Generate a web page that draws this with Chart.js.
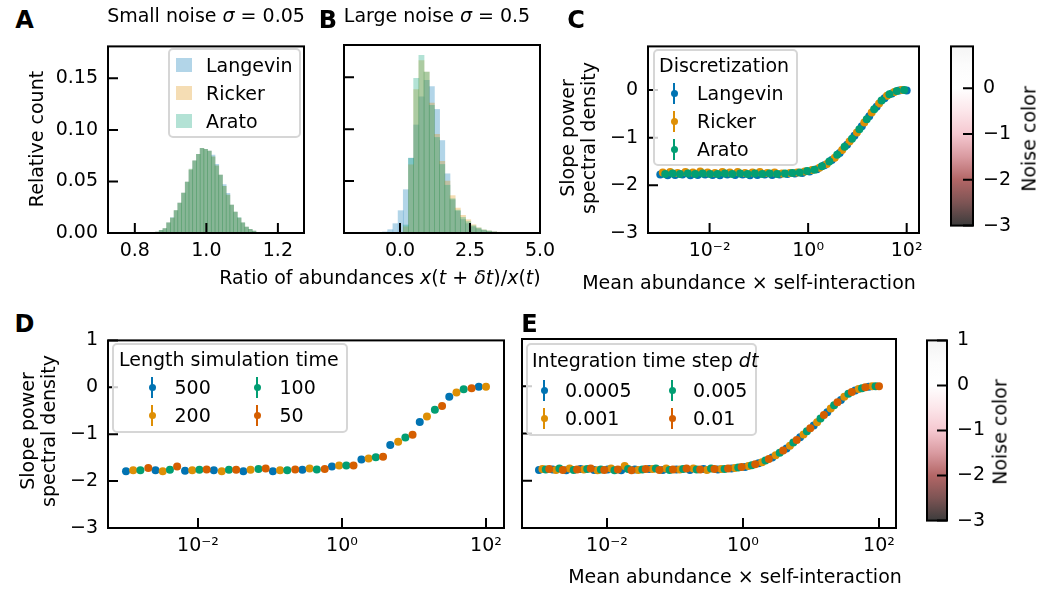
<!DOCTYPE html>
<html>
<head>
<meta charset="utf-8">
<script src="https://cdn.jsdelivr.net/npm/chart.js@4.4.0/dist/chart.umd.min.js"></script>
<style>
body { margin: 0; background: #fff; }
#fig { position: relative; width: 1053px; height: 591px; overflow: hidden; font-family: 'DejaVu Sans', sans-serif; color: #000; }
#fig canvas { position: absolute; }
.t { position: absolute; font-size: 19px; white-space: nowrap; line-height: 19px; }
.c { transform: translate(-50%, -50%); text-align: center; }
.r { transform: translate(-50%, -50%) rotate(-90deg); text-align: center; line-height: 21px; }
.l { transform: translateY(-50%); }
.big { font-size: 24px; line-height: 24px; font-weight: bold; }
.leg { position: absolute; box-sizing: border-box; border: 2px solid #d6d6d6; border-radius: 5px; background: rgba(255,255,255,0.8); }
</style>
</head>
<body>
<div id="fig"></div>
<script>
// ---- data ----

// A: small noise histogram (bin centres and relative counts)
const binsA = [0.8630, 0.8734, 0.8838, 0.8942, 0.9046, 0.9150, 0.9254, 0.9358, 0.9462, 0.9566,
  0.9670, 0.9774, 0.9878, 0.9982, 1.0086, 1.0190, 1.0294, 1.0398, 1.0502, 1.0606,
  1.0710, 1.0814, 1.0918, 1.1022, 1.1126, 1.1230, 1.1334, 1.1438];
const langevinA = [0.0010, 0.0026, 0.0042, 0.0099, 0.0150, 0.0218, 0.0290, 0.0388, 0.0494, 0.0609,
  0.0699, 0.0763, 0.0821, 0.0812, 0.0795, 0.0755, 0.0665, 0.0561, 0.0470, 0.0385,
  0.0272, 0.0202, 0.0144, 0.0099, 0.0058, 0.0035, 0.0019, 0.0006];
const rickerA = [0.0010, 0.0026, 0.0042, 0.0099, 0.0144, 0.0218, 0.0290, 0.0388, 0.0494, 0.0615,
  0.0699, 0.0763, 0.0821, 0.0812, 0.0795, 0.0740, 0.0651, 0.0561, 0.0452, 0.0368,
  0.0272, 0.0202, 0.0144, 0.0099, 0.0058, 0.0035, 0.0019, 0.0006];
const aratoA = [0.0010, 0.0026, 0.0042, 0.0099, 0.0144, 0.0218, 0.0290, 0.0388, 0.0494, 0.0620,
  0.0699, 0.0763, 0.0821, 0.0812, 0.0795, 0.0740, 0.0651, 0.0561, 0.0452, 0.0368,
  0.0272, 0.0202, 0.0150, 0.0099, 0.0058, 0.0035, 0.0019, 0.0006];

// B: large noise histogram
const binsB = [-0.5319, -0.3465, -0.1611, 0.0243, 0.2097, 0.3951, 0.5805, 0.7659, 0.9513, 1.1367,
  1.3221, 1.5075, 1.6929, 1.8783, 2.0637, 2.2491, 2.4345, 2.6199, 2.8053, 2.9907,
  3.1761, 3.3615, 3.5469, 3.7323, 3.9177];
const langevinB = [0.0010, 0.0032, 0.0090, 0.0215, 0.0417, 0.0720, 0.1040, 0.1310, 0.1470, 0.1410,
  0.1190, 0.0890, 0.0570, 0.0320, 0.0210, 0.0130, 0.0090, 0.0060, 0.0040, 0.0025,
  0.0015, 0.0010, 0.0006, 0.0004, 0.0003];
const rickerB = [0, 0, 0, 0.0005, 0.0060, 0.0657, 0.1380, 0.1660, 0.1550, 0.1250,
  0.0950, 0.0690, 0.0500, 0.0360, 0.0240, 0.0170, 0.0128, 0.0080, 0.0050, 0.0030,
  0.0020, 0.0012, 0.0008, 0.0005, 0.0004];
const aratoB = [0, 0, 0, 0.0005, 0.0077, 0.0720, 0.1490, 0.1710, 0.1550, 0.1230,
  0.0920, 0.0660, 0.0460, 0.0330, 0.0220, 0.0150, 0.0110, 0.0070, 0.0048, 0.0030,
  0.0020, 0.0010, 0.0006, 0.0004, 0.0003];

// C, E: log10 of mean abundance x self-interaction, 100 points shared by the series
const gridExp = [-3.00, -2.95, -2.90, -2.85, -2.80, -2.75, -2.70, -2.65, -2.60, -2.55,
  -2.49, -2.44, -2.39, -2.34, -2.29, -2.24, -2.19, -2.14, -2.09, -2.04,
  -1.99, -1.94, -1.89, -1.84, -1.79, -1.74, -1.69, -1.64, -1.59, -1.54,
  -1.48, -1.43, -1.38, -1.33, -1.28, -1.23, -1.18, -1.13, -1.08, -1.03,
  -0.98, -0.93, -0.88, -0.83, -0.78, -0.73, -0.68, -0.63, -0.58, -0.53,
  -0.47, -0.42, -0.37, -0.32, -0.27, -0.22, -0.17, -0.12, -0.07, -0.02,
  0.03, 0.08, 0.13, 0.18, 0.23, 0.28, 0.33, 0.38, 0.43, 0.48,
  0.54, 0.59, 0.64, 0.69, 0.74, 0.79, 0.84, 0.89, 0.94, 0.99,
  1.04, 1.09, 1.14, 1.19, 1.24, 1.29, 1.34, 1.39, 1.44, 1.49,
  1.55, 1.60, 1.65, 1.70, 1.75, 1.80, 1.85, 1.90, 1.95, 2.00];

// C: slopes per discretization (every 3rd grid point, offset 0/1/2)
const cLangevin = [-1.77, -1.79, -1.78, -1.77, -1.79, -1.78, -1.77, -1.78, -1.79, -1.77,
  -1.78, -1.77, -1.79, -1.78, -1.77, -1.78, -1.77, -1.76, -1.75, -1.74,
  -1.71, -1.66, -1.58, -1.47, -1.32, -1.15, -0.96, -0.76, -0.55, -0.35,
  -0.17, -0.07, -0.01, -0.01];
const cRicker = [-1.73, -1.72, -1.74, -1.72, -1.73, -1.71, -1.73, -1.74, -1.72, -1.73,
  -1.72, -1.74, -1.73, -1.72, -1.74, -1.73, -1.75, -1.74, -1.73, -1.71,
  -1.68, -1.63, -1.55, -1.42, -1.26, -1.08, -0.89, -0.68, -0.47, -0.28,
  -0.12, -0.04, 0.00];
const cArato = [-1.76, -1.75, -1.76, -1.75, -1.76, -1.75, -1.76, -1.76, -1.75, -1.76,
  -1.75, -1.76, -1.75, -1.76, -1.75, -1.76, -1.75, -1.74, -1.73, -1.70,
  -1.67, -1.60, -1.50, -1.36, -1.19, -1.02, -0.82, -0.61, -0.40, -0.22,
  -0.09, -0.02, 0.00];

// D: 50 points, every 4th one per simulation length
const dExp = [-3.00, -2.90, -2.80, -2.69, -2.59, -2.49, -2.39, -2.29, -2.18, -2.08,
  -1.98, -1.88, -1.78, -1.67, -1.57, -1.47, -1.37, -1.27, -1.16, -1.06,
  -0.96, -0.86, -0.76, -0.65, -0.55, -0.45, -0.35, -0.24, -0.14, -0.04,
  0.06, 0.16, 0.27, 0.37, 0.47, 0.57, 0.67, 0.78, 0.88, 0.98,
  1.08, 1.18, 1.29, 1.39, 1.49, 1.59, 1.69, 1.80, 1.90, 2.00];
const d500 = [-1.79, -1.77, -1.78, -1.77, -1.79, -1.79, -1.76, -1.69, -1.54, -1.23, -0.74, -0.20, 0.01];
const d200 = [-1.77, -1.79, -1.77, -1.79, -1.76, -1.77, -1.73, -1.67, -1.52, -1.16, -0.62, -0.11, 0.01];
const d100 = [-1.77, -1.76, -1.76, -1.76, -1.74, -1.77, -1.75, -1.67, -1.49, -1.07, -0.48, -0.04];
const d50 = [-1.72, -1.69, -1.75, -1.76, -1.73, -1.75, -1.74, -1.67, -1.48, -1.01, -0.40, -0.02];

// E: every 4th grid point per time step
const e0005 = [-1.77, -1.76, -1.78, -1.75, -1.77, -1.76, -1.78, -1.76, -1.75, -1.77,
  -1.76, -1.77, -1.75, -1.76, -1.74, -1.71, -1.63, -1.51, -1.32, -1.08,
  -0.83, -0.55, -0.29, -0.09, -0.01];
const e001 = [-1.75, -1.77, -1.74, -1.76, -1.78, -1.74, -1.69, -1.77, -1.75, -1.74,
  -1.76, -1.74, -1.77, -1.75, -1.73, -1.69, -1.61, -1.46, -1.26, -1.02,
  -0.76, -0.47, -0.22, -0.06, 0.00];
const e005 = [-1.76, -1.74, -1.77, -1.75, -1.76, -1.78, -1.75, -1.76, -1.74, -1.77,
  -1.75, -1.76, -1.74, -1.75, -1.72, -1.67, -1.57, -1.41, -1.19, -0.95,
  -0.68, -0.40, -0.16, -0.04, 0.00];
const e01 = [-1.75, -1.77, -1.76, -1.74, -1.77, -1.76, -1.78, -1.75, -1.77, -1.76,
  -1.74, -1.76, -1.75, -1.74, -1.71, -1.65, -1.54, -1.36, -1.14, -0.89,
  -0.61, -0.34, -0.12, -0.02, 0.00];

// ticks
const countTicks = [0, 0.05, 0.10, 0.15];
const ratioTicksA = [0.8, 1.0, 1.2];
const ratioTicksB = [0.0, 2.5, 5.0];
const slopeTicksC = [-3, -2, -1, 0];
const slopeTicksD = [-3, -2, -1, 0, 1];
const logTicks = [0.01, 1, 100];
const logTickText = ['10\u207B\u00B2', '10\u2070', '10\u00B2'];

// noise colour map
const cmapVals = [-3, -2.5, -2, -1.5, -1, -0.5, 0, 0.5, 1];
const cmapColors = ['#3c3c3c', '#7d5454', '#b36666', '#d99aa0', '#f5c8d0', '#fce6ea', '#ffffff', '#fcfcfc', '#f4f4f4'];

const BLUE = '#0173b2', ORANGE = '#de8f05', GREEN = '#029e73', RED = '#d55e00';

// ---- helpers ----
Chart.defaults.font.family = 'DejaVu Sans';
Chart.defaults.font.size = 19;
Chart.defaults.color = '#000';
Chart.defaults.animation = false;
Chart.defaults.events = [];
Chart.defaults.plugins.legend.display = false;
Chart.defaults.plugins.tooltip.enabled = false;

const fig = document.getElementById('fig');
const minus = v => (v < 0 ? '\u2212' + Math.abs(v) : String(v));

// matplotlib-like frame with inward ticks
Chart.register({
  id: 'frame',
  afterDatasetsDraw(chart, args, opts) {
    const ctx = chart.ctx, a = chart.chartArea;
    const xs = chart.scales.x, ys = chart.scales.y;
    ctx.save();
    ctx.strokeStyle = '#000';
    ctx.lineWidth = 2;
    ctx.beginPath();
    if (xs && xs.options.display !== false) {
      xs.ticks.forEach(t => {
        const p = xs.getPixelForValue(t.value);
        if (p < a.left - 1 || p > a.right + 1) return;
        ctx.moveTo(p, a.bottom); ctx.lineTo(p, a.bottom - 10);
      });
    }
    ys.ticks.forEach(t => {
      const p = ys.getPixelForValue(t.value);
      if (p < a.top - 1 || p > a.bottom + 1) return;
      if (opts.right) { ctx.moveTo(a.right, p); ctx.lineTo(a.right - 10, p); }
      else { ctx.moveTo(a.left, p); ctx.lineTo(a.left + 10, p); }
    });
    ctx.stroke();
    ctx.strokeRect(a.left, a.top, a.right - a.left, a.bottom - a.top);
    ctx.restore();
  }
});

function axis(type, min, max, ticks, fmt, extra) {
  return Object.assign({
    type: type, min: min, max: max, bounds: 'data', offset: false,
    grid: { display: false, drawTicks: false }, border: { display: false },
    ticks: { autoSkip: false, maxRotation: 0, padding: 7, callback: fmt },
    afterBuildTicks: s => { s.ticks = ticks.map(v => ({ value: v })); }
  }, extra);
}
const xFit = h => ({ afterFit: s => { s.height = h; } });
const yFit = (w, show) => ({
  afterFit: s => { s.width = w; },
  ticks: { display: show, autoSkip: false, padding: 10, callback: v => minus(v) }
});

function makeChart(box, yW, xH, config, cbar) {
  const pad = cbar ? { left: 4, top: 20, right: 0, bottom: 14 } : { left: 0, top: 20, right: 34, bottom: 0 };
  const cv = document.createElement('canvas');
  const w = cbar ? pad.left + box.w + yW : yW + box.w + pad.right;
  const h = pad.top + box.h + (cbar ? pad.bottom : xH);
  cv.width = w; cv.height = h;
  cv.style.left = (cbar ? box.x - pad.left : box.x - yW) + 'px';
  cv.style.top = (box.y - pad.top) + 'px';
  cv.style.width = w + 'px';
  cv.style.height = h + 'px';
  fig.appendChild(cv);
  config.options.responsive = false;
  config.options.maintainAspectRatio = false;
  config.options.devicePixelRatio = 1;
  config.options.layout = { padding: pad };
  return new Chart(cv, config);
}

function pick(exps, n, k, ys) {
  return ys.map((y, j) => ({ x: Math.pow(10, exps[k + j * n]), y: y }));
}

// order: lower number is drawn later (on top), as in the original plotting order
function hist(bins, vals, color, order) {
  return {
    data: bins.map((x, i) => ({ x: x, y: vals[i] })),
    backgroundColor: color, borderWidth: 0, order: order,
    grouped: false, barPercentage: 1, categoryPercentage: 1
  };
}
function dots(data, color, order) {
  return { data: data, backgroundColor: color, borderColor: color, pointRadius: 4, pointBorderWidth: 0, order: order };
}

const logX = xH => axis('logarithmic', Math.pow(10, -3.25), Math.pow(10, 2.25), logTicks,
  (v, i) => logTickText[i], xFit(xH));

// ---- A ----
makeChart({ x: 108, y: 45, w: 196, h: 188 }, 70, 34, {
  type: 'bar',
  data: { datasets: [
    hist(binsA, langevinA, 'rgba(1,115,178,0.3)', 3),
    hist(binsA, rickerA, 'rgba(222,143,5,0.3)', 2),
    hist(binsA, aratoA, 'rgba(2,158,115,0.3)', 1)
  ] },
  options: { scales: {
    x: axis('linear', 0.725, 1.273, ratioTicksA, v => v.toFixed(1), xFit(34)),
    y: axis('linear', 0, 0.181, countTicks, v => v.toFixed(2),
      { afterFit: s => { s.width = 70; }, ticks: { autoSkip: false, padding: 10, callback: v => v.toFixed(2) } })
  } }
});

// ---- B ----
makeChart({ x: 344, y: 45, w: 196, h: 188 }, 6, 34, {
  type: 'bar',
  data: { datasets: [
    hist(binsB, langevinB, 'rgba(1,115,178,0.3)', 3),
    hist(binsB, rickerB, 'rgba(222,143,5,0.3)', 2),
    hist(binsB, aratoB, 'rgba(2,158,115,0.3)', 1)
  ] },
  options: { scales: {
    x: axis('linear', -2, 5, ratioTicksB, v => v.toFixed(1), xFit(34)),
    y: axis('linear', 0, 0.181, countTicks, null, yFit(6, false))
  } }
});

// ---- C ----
makeChart({ x: 648, y: 45, w: 271, h: 188 }, 60, 34, {
  type: 'scatter',
  data: { datasets: [
    dots(pick(gridExp, 3, 0, cLangevin), BLUE, 3),
    dots(pick(gridExp, 3, 1, cRicker), ORANGE, 2),
    dots(pick(gridExp, 3, 2, cArato), GREEN, 1)
  ] },
  options: { scales: {
    x: logX(34),
    y: axis('linear', -3, 0.917, slopeTicksC, null, yFit(60, true))
  } }
});

// ---- D ----
makeChart({ x: 108, y: 339, w: 396, h: 189 }, 60, 34, {
  type: 'scatter',
  data: { datasets: [
    dots(pick(dExp, 4, 0, d500), BLUE, 4),
    dots(pick(dExp, 4, 1, d200), ORANGE, 3),
    dots(pick(dExp, 4, 2, d100), GREEN, 2),
    dots(pick(dExp, 4, 3, d50), RED, 1)
  ] },
  options: { scales: {
    x: logX(34),
    y: axis('linear', -3, 1, slopeTicksD, null, yFit(60, true))
  } }
});

// ---- E ----
makeChart({ x: 522, y: 339, w: 374, h: 189 }, 6, 34, {
  type: 'scatter',
  data: { datasets: [
    dots(pick(gridExp, 4, 0, e0005), BLUE, 4),
    dots(pick(gridExp, 4, 1, e001), ORANGE, 3),
    dots(pick(gridExp, 4, 2, e005), GREEN, 2),
    dots(pick(gridExp, 4, 3, e01), RED, 1)
  ] },
  options: { scales: {
    x: logX(34),
    y: axis('linear', -3, 1, slopeTicksD, null, yFit(6, false))
  } }
});

// ---- colour bars ----
function colorbar(box, top, ticks) {
  const grad = c => {
    const ys = c.chart.scales.y;
    if (!ys) return '#ffffff';
    const p0 = ys.getPixelForValue(cmapVals[0]);
    const p1 = ys.getPixelForValue(cmapVals[cmapVals.length - 1]);
    if (!isFinite(p0) || !isFinite(p1) || p0 === p1) return '#ffffff';
    const g = c.chart.ctx.createLinearGradient(0, p0, 0, p1);
    const span = cmapVals[cmapVals.length - 1] - cmapVals[0];
    cmapVals.forEach((v, i) => g.addColorStop((v - cmapVals[0]) / span, cmapColors[i]));
    return g;
  };
  makeChart(box, 50, 0, {
    type: 'bar',
    data: { labels: ['noise'], datasets: [{ data: [[-3, top]], backgroundColor: grad, borderWidth: 0,
      barPercentage: 1, categoryPercentage: 1 }] },
    options: {
      plugins: { frame: { right: true } },
      scales: {
        x: { display: false },
        y: axis('linear', -3, top, ticks, null, {
          position: 'right',
          afterFit: s => { s.width = 50; },
          ticks: { autoSkip: false, padding: 10, callback: v => minus(v) }
        })
      }
    }
  }, true);
}
colorbar({ x: 951, y: 45, w: 22, h: 188 }, 0.917, slopeTicksC);
colorbar({ x: 927, y: 339, w: 20, h: 189 }, 1, slopeTicksD);

// ---- text and legends ----
function txt(html, x, y, cls) {
  const d = document.createElement('div');
  d.className = 't ' + cls;
  d.innerHTML = html;
  d.style.left = x + 'px';
  d.style.top = y + 'px';
  fig.appendChild(d);
  return d;
}
function box(x, y, w, h) {
  const d = document.createElement('div');
  d.className = 'leg';
  d.style.cssText = `left:${x}px;top:${y}px;width:${w}px;height:${h}px;`;
  fig.appendChild(d);
}
function patch(color, x, cy) {
  const d = document.createElement('div');
  d.style.cssText = `position:absolute;left:${x}px;top:${cy - 7}px;width:16px;height:14px;background:${color};`;
  fig.appendChild(d);
}
function marker(color, cx, cy) {
  const l = document.createElement('div');
  l.style.cssText = `position:absolute;left:${cx - 1}px;top:${cy - 10}px;width:2px;height:21px;background:${color};`;
  fig.appendChild(l);
  const d = document.createElement('div');
  d.style.cssText = `position:absolute;left:${cx - 3.5}px;top:${cy - 3}px;width:7px;height:7px;border-radius:50%;background:${color};`;
  fig.appendChild(d);
}

txt('A', 24.5, 20, 'c big');
txt('B', 328, 20, 'c big');
txt('C', 576, 20, 'c big');
txt('D', 24.5, 324, 'c big');
txt('E', 529.5, 324, 'c big');

txt('Small noise <i>σ</i> = 0.05', 206, 15, 'c');
txt('Large noise <i>σ</i> = 0.5', 437, 15, 'c');
txt('Relative count', 36, 139, 'r');
txt('Ratio of abundances <i>x</i>(<i>t</i> + <i>δt</i>)/<i>x</i>(<i>t</i>)', 380, 277, 'c');
txt('Slope power<br>spectral density', 578, 138, 'r');
txt('Mean abundance × self-interaction', 749, 282, 'c');
txt('Noise color', 1029, 139, 'r');
txt('Slope power<br>spectral density', 38, 431, 'r');
txt('Mean abundance × self-interaction', 735, 576, 'c');
txt('Noise color', 1000, 432, 'r');

box(168, 48, 133, 90);
patch('rgba(1,115,178,0.3)', 176, 65);
patch('rgba(222,143,5,0.3)', 176, 93);
patch('rgba(2,158,115,0.3)', 176, 121);
txt('Langevin', 206, 65, 'l');
txt('Ricker', 206, 93, 'l');
txt('Arato', 206, 121, 'l');

box(653, 49, 145, 117);
txt('Discretization', 659, 65, 'l');
marker(BLUE, 674, 92.5); txt('Langevin', 697, 92.5, 'l');
marker(ORANGE, 674, 120.5); txt('Ricker', 697, 120.5, 'l');
marker(GREEN, 674, 148.5); txt('Arato', 697, 148.5, 'l');

box(112, 343, 236, 90);
txt('Length simulation time', 119, 359, 'l');
marker(BLUE, 152, 387); txt('500', 174.5, 387, 'l');
marker(ORANGE, 152, 415); txt('200', 174.5, 415, 'l');
marker(GREEN, 257, 387); txt('100', 279.5, 387, 'l');
marker(RED, 257, 415); txt('50', 279.5, 415, 'l');

box(526, 343, 231, 93);
txt('Integration time step <i>dt</i>', 532, 360, 'l');
marker(BLUE, 544, 390); txt('0.0005', 565, 390, 'l');
marker(ORANGE, 544, 418); txt('0.001', 565, 418, 'l');
marker(GREEN, 672, 390); txt('0.005', 693, 390, 'l');
marker(RED, 672, 418); txt('0.01', 693, 418, 'l');
</script>
</body>
</html>
